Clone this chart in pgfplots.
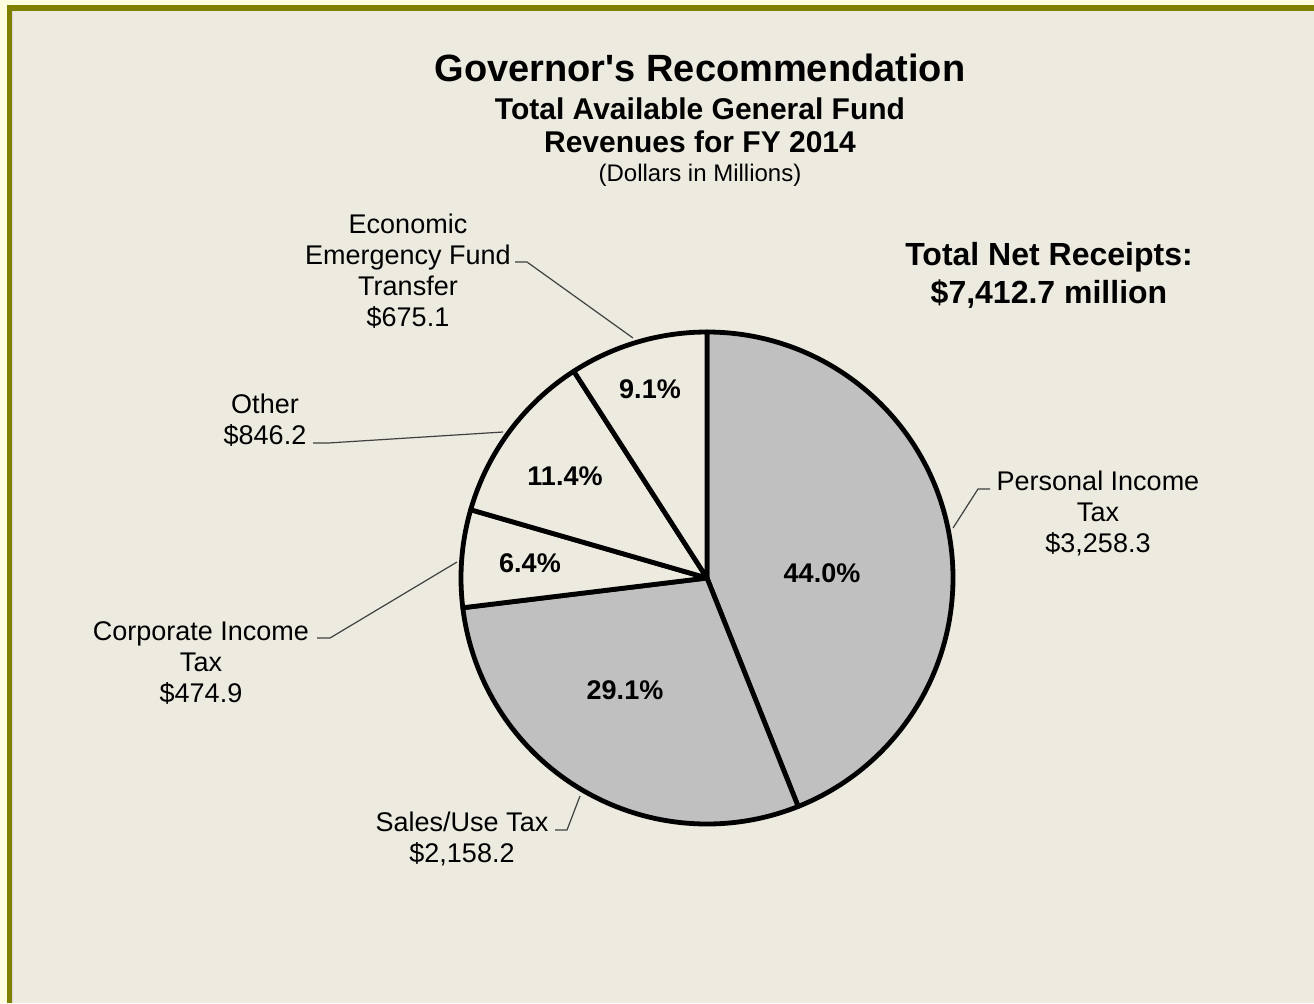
\documentclass[border=0pt]{standalone}
\usepackage{pgfplots}
\usepackage{pgfplotstable}
\pgfplotsset{compat=1.18}
\usepackage{fontspec}
\setmainfont{Liberation Sans}
\definecolor{bg}{HTML}{EDEBE0}
\definecolor{outer}{HTML}{FFFFE0}
\definecolor{olivefr}{HTML}{7F7F00}
\definecolor{piegray}{HTML}{C0C0C0}

\pgfplotstableread{
name value col lx ly
PIT 3258.3 piegray 822 573
Sales 2158.2 piegray 625 690
Corp 474.9 bg 530 563
Other 846.2 bg 565 476
EEF 675.1 bg 650 389
}\pietable

\begin{document}
\begin{tikzpicture}
\def\total{0}
\pgfplotsforeachungrouped \i in {0,...,4}{%
 \pgfplotstablegetelem{\i}{value}\of\pietable
 \pgfmathsetmacro\total{\total+\pgfplotsretval}}
\def\cum{0}
\pgfplotsforeachungrouped \i in {0,...,4}{%
 \pgfplotstablegetelem{\i}{value}\of\pietable
 \let\v\pgfplotsretval
 \pgfmathsetmacro\sa{90-\cum/\total*360}%
 \pgfmathsetmacro\cum{\cum+\v}%
 \pgfmathsetmacro\ea{90-\cum/\total*360}%
 \pgfmathsetmacro\pc{\v/\total*100}%
 \expandafter\xdef\csname pieS\i\endcsname{\sa}%
 \expandafter\xdef\csname pieE\i\endcsname{\ea}%
 \expandafter\xdef\csname pieP\i\endcsname{\pc}%
 \pgfplotstablegetelem{\i}{col}\of\pietable
 \expandafter\xdef\csname pieC\i\endcsname{\pgfplotsretval}%
 \pgfplotstablegetelem{\i}{lx}\of\pietable
 \expandafter\xdef\csname pieX\i\endcsname{\pgfplotsretval}%
 \pgfplotstablegetelem{\i}{ly}\of\pietable
 \expandafter\xdef\csname pieY\i\endcsname{\pgfplotsretval}%
}
\begin{axis}[width=657pt,height=501.5pt,scale only axis,
  xmin=0,xmax=1314,ymin=0,ymax=1003,y dir=reverse,hide axis,clip=false,
  /pgf/number format/assume math mode=true]
\fill[outer] (axis cs:0,0) rectangle (axis cs:1314,1003);
\fill[olivefr] (axis cs:7,5) rectangle (axis cs:1314,1003);
\fill[bg] (axis cs:12,11) rectangle (axis cs:1314,1003);
\draw[line width=0.6pt,color=black!15] (axis cs:12.6,11) -- (axis cs:12.6,1003);
% slices
\pgfplotsinvokeforeach{0,...,4}{
 \filldraw[fill=\csname pieC#1\endcsname,draw=black,line width=2.4pt,line join=round]
   (axis cs:707,578) -- ++(\csname pieS#1\endcsname:123pt)
   arc[start angle=\csname pieS#1\endcsname,end angle=\csname pieE#1\endcsname,radius=123pt] -- cycle;
}
\pgfplotsinvokeforeach{0,...,4}{
 \node[font=\bfseries\fontsize{13.5}{16}\selectfont] at (axis cs:\csname pieX#1\endcsname,\csname pieY#1\endcsname)
   {\pgfmathprintnumber[fixed,fixed zerofill,precision=1,assume math mode=true]{\csname pieP#1\endcsname}\%};
}
% leader lines
\begin{scope}[line width=0.6pt,draw=black!75]
\draw (axis cs:515,262) -- (axis cs:527,262) -- (axis cs:633,338);
\draw (axis cs:313,443) -- (axis cs:328,443) -- (axis cs:503,432);
\draw (axis cs:317,638) -- (axis cs:330,638) -- (axis cs:457,562);
\draw (axis cs:555,830) -- (axis cs:567,830) -- (axis cs:580,796);
\draw (axis cs:990,489) -- (axis cs:978,489) -- (axis cs:953,528);
\end{scope}
% labels
\begin{scope}[every node/.style={align=center,font=\fontsize{13.5}{15.5}\selectfont,inner sep=0pt}]
\node at (axis cs:408,271) {Economic\\Emergency Fund\\Transfer\\\$675.1};
\node at (axis cs:265,420) {Other\\\$846.2};
\node at (axis cs:201,663) {Corporate Income\\Tax\\\$474.9};
\node at (axis cs:462,839) {Sales/Use Tax\\\$2,158.2};
\node at (axis cs:1098,513) {Personal Income\\Tax\\\$3,258.3};
\end{scope}
\node[align=center,inner sep=0pt,font=\bfseries\fontsize{16}{19}\selectfont] at (axis cs:1049,275) {Total Net Receipts:\\\$7,412.7 million};
\node[inner sep=0pt,font=\bfseries\fontsize{19}{22}\selectfont] at (axis cs:700,68) {Governor\textquotesingle s Recommendation};
\node[align=center,inner sep=0pt,font=\bfseries\fontsize{15}{16.5}\selectfont] at (axis cs:700,125) {Total Available General Fund\\Revenues for FY 2014};
\node[inner sep=0pt,font=\fontsize{12}{14}\selectfont] at (axis cs:700,175) {(Dollars in Millions)};
\end{axis}
\end{tikzpicture}
\end{document}
